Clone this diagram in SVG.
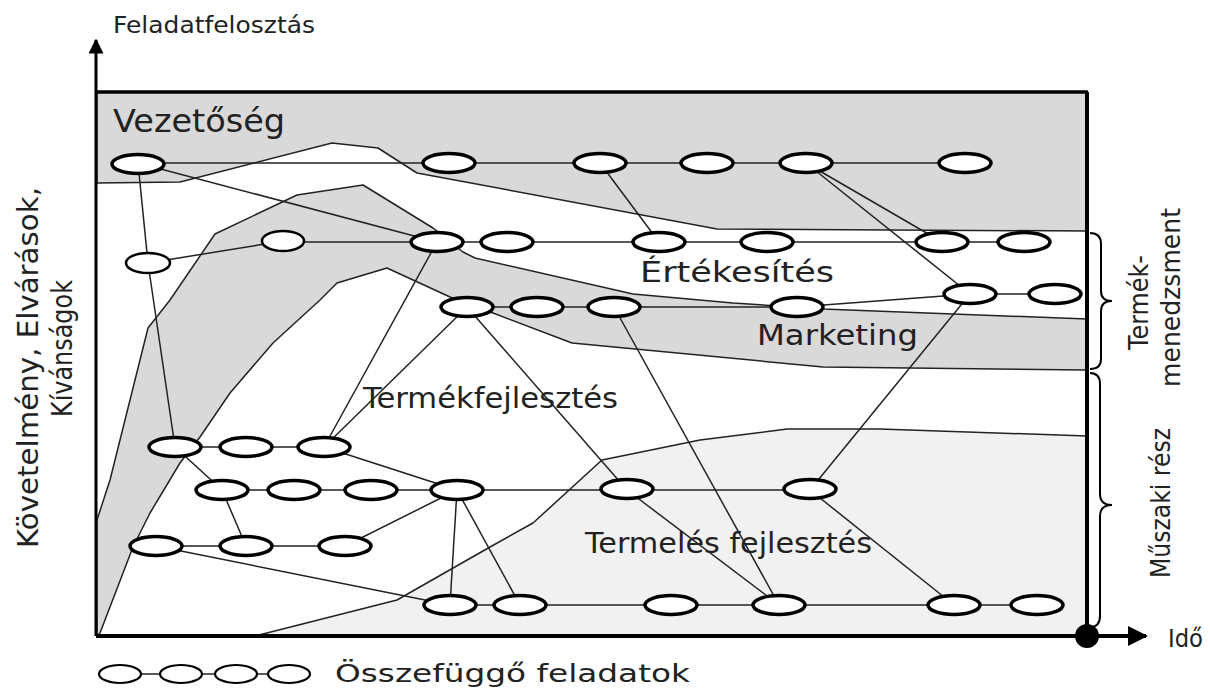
<svg xmlns="http://www.w3.org/2000/svg" width="1210" height="694" viewBox="0 0 1210 694">
  <style>
    .t{font-family:"DejaVu Sans","Liberation Sans",sans-serif;fill:#222}
    .c{stroke:#222;stroke-width:1.5;fill:none}
    .zone{stroke:#222;stroke-width:1.5;stroke-linejoin:round}
    .n{fill:#fff;stroke:#000;stroke-width:3.5}
    .ns{fill:#fff;stroke:#000;stroke-width:2.5}
    .lg{fill:#fff;stroke:#000;stroke-width:2.2}
    .brace{fill:none;stroke:#000;stroke-width:2}
  </style>
  <defs>
    <marker id="arrow" viewBox="0 0 10 10" refX="9" refY="5" markerWidth="5" markerHeight="5" orient="auto" markerUnits="strokeWidth">
      <path d="M0,0 L10,5 L0,10 z" fill="#000"/>
    </marker>
  </defs>

  <rect x="0" y="0" width="1210" height="694" fill="#fff"/>

  <!-- shaded areas -->
  <g id="zones">
    <!-- management area at the top -->
    <polygon class="zone" fill="#d9d9d9" points="97,92 1087,92 1087,231 717,229 417,173 378,148 332,143 180,182 97,183"/>
    <!-- marketing band -->
    <polygon class="zone" fill="#d9d9d9" points="97,520 110,480 148,328 170,300 215,234 297,195 363,185 433,228 463,252 475,258 633,294 733,303 823,309 1087,319 1087,370 823,367 572,343 493,313 467,303 450,297 387,268 337,283 320,300 273,343 230,393 200,437 180,463 150,513 133,547 100,633 97,636"/>
    <!-- production development area -->
    <polygon class="zone" fill="#f1f1f1" points="255,636 397,600 490,547 533,523 602,460 700,440 787,429 880,429 1087,436 1087,636"/>
  </g>

  <!-- connectors -->
  <g id="connectors">
    <line class="c" x1="138" y1="163" x2="966" y2="163"/>
    <line class="c" x1="283" y1="242" x2="1024" y2="242"/>
    <line class="c" x1="467" y1="307" x2="797" y2="307"/>
    <line class="c" x1="797" y1="307" x2="970" y2="294"/>
    <line class="c" x1="970" y1="294" x2="1055" y2="294"/>
    <line class="c" x1="175" y1="447" x2="324" y2="447"/>
    <line class="c" x1="222" y1="490" x2="810" y2="490"/>
    <line class="c" x1="156" y1="546" x2="345" y2="546"/>
    <line class="c" x1="450" y1="605" x2="1037" y2="605"/>

    <line class="c" x1="138" y1="163" x2="148" y2="263"/>
    <line class="c" x1="148" y1="263" x2="175" y2="447"/>
    <line class="c" x1="148" y1="263" x2="283" y2="241"/>
    <line class="c" x1="138" y1="163" x2="437" y2="242"/>
    <line class="c" x1="600" y1="163" x2="659" y2="242"/>
    <line class="c" x1="806" y1="163" x2="942" y2="242"/>
    <line class="c" x1="806" y1="163" x2="970" y2="294"/>
    <line class="c" x1="437" y1="242" x2="324" y2="447"/>
    <line class="c" x1="467" y1="307" x2="324" y2="447"/>
    <line class="c" x1="467" y1="307" x2="627" y2="490"/>
    <line class="c" x1="614" y1="307" x2="779" y2="605"/>
    <line class="c" x1="970" y1="294" x2="810" y2="490"/>
    <line class="c" x1="810" y1="490" x2="954" y2="605"/>
    <line class="c" x1="627" y1="490" x2="779" y2="605"/>
    <line class="c" x1="175" y1="447" x2="222" y2="490"/>
    <line class="c" x1="222" y1="490" x2="246" y2="546"/>
    <line class="c" x1="324" y1="447" x2="457" y2="490"/>
    <line class="c" x1="345" y1="546" x2="457" y2="490"/>
    <line class="c" x1="457" y1="490" x2="450" y2="605"/>
    <line class="c" x1="457" y1="490" x2="520" y2="605"/>
    <line class="c" x1="156" y1="546" x2="450" y2="605"/>
  </g>

  <!-- frame and axes -->
  <g id="axes">
    <line x1="96" y1="636" x2="96" y2="40" stroke="#000" stroke-width="3" marker-end="url(#arrow)"/>
    <line x1="96" y1="92" x2="1088" y2="92" stroke="#000" stroke-width="3.5"/>
    <line x1="1087" y1="92" x2="1087" y2="636" stroke="#000" stroke-width="4"/>
    <line x1="96" y1="636" x2="1146" y2="636" stroke="#000" stroke-width="4" marker-end="url(#arrow)"/>
    <circle cx="1087" cy="636" r="12" fill="#000"/>
    <path class="brace" d="M1090,233 Q1101,233 1101,244 L1101,291 Q1101,301 1112,301 Q1101,301 1101,311 L1101,359 Q1101,369 1090,369"/>
    <path class="brace" d="M1090,373 Q1100,373 1100,384 L1100,494 Q1100,505 1112,505 Q1100,505 1100,516 L1100,616 Q1100,627 1090,627"/>
  </g>

  <!-- tasks -->
  <g id="v1"><ellipse class="n" cx="138" cy="164" rx="26" ry="9.5"/></g>
  <g id="v2"><ellipse class="n" cx="449" cy="163" rx="26" ry="9.5"/></g>
  <g id="v3"><ellipse class="n" cx="600" cy="163" rx="26" ry="9.5"/></g>
  <g id="v4"><ellipse class="n" cx="707" cy="163" rx="26" ry="9.5"/></g>
  <g id="v5"><ellipse class="n" cx="806" cy="163" rx="26" ry="9.5"/></g>
  <g id="v6"><ellipse class="n" cx="965" cy="163" rx="26" ry="9.5"/></g>

  <g id="s0"><ellipse class="ns" cx="148" cy="263" rx="22" ry="10"/></g>
  <g id="s1"><ellipse class="ns" cx="283" cy="241" rx="21" ry="10"/></g>
  <g id="s2"><ellipse class="n" cx="437" cy="242" rx="26" ry="9.5"/></g>
  <g id="s3"><ellipse class="n" cx="507" cy="242" rx="26" ry="9.5"/></g>
  <g id="s4"><ellipse class="n" cx="659" cy="242" rx="26" ry="9.5"/></g>
  <g id="s5"><ellipse class="n" cx="767" cy="242" rx="26" ry="9.5"/></g>
  <g id="s6"><ellipse class="n" cx="942" cy="242" rx="26" ry="9.5"/></g>
  <g id="s7"><ellipse class="n" cx="1024" cy="242" rx="26" ry="9.5"/></g>

  <g id="m1"><ellipse class="n" cx="467" cy="307" rx="26" ry="9.5"/></g>
  <g id="m2"><ellipse class="n" cx="537" cy="307" rx="26" ry="9.5"/></g>
  <g id="m3"><ellipse class="n" cx="614" cy="307" rx="26" ry="9.5"/></g>
  <g id="m4"><ellipse class="n" cx="797" cy="307" rx="26" ry="9.5"/></g>
  <g id="m5"><ellipse class="n" cx="970" cy="294" rx="26" ry="9.5"/></g>
  <g id="m6"><ellipse class="n" cx="1055" cy="294" rx="26" ry="9.5"/></g>

  <g id="d1"><ellipse class="n" cx="175" cy="447" rx="26" ry="9.5"/></g>
  <g id="d2"><ellipse class="n" cx="246" cy="447" rx="26" ry="9.5"/></g>
  <g id="d3"><ellipse class="n" cx="324" cy="447" rx="26" ry="9.5"/></g>

  <g id="d4"><ellipse class="n" cx="222" cy="490" rx="26" ry="9.5"/></g>
  <g id="d5"><ellipse class="n" cx="294" cy="490" rx="26" ry="9.5"/></g>
  <g id="d6"><ellipse class="n" cx="371" cy="490" rx="26" ry="9.5"/></g>
  <g id="d7"><ellipse class="n" cx="457" cy="490" rx="26" ry="9.5"/></g>
  <g id="d8"><ellipse class="n" cx="627" cy="489" rx="26" ry="9.5"/></g>
  <g id="d9"><ellipse class="n" cx="810" cy="489" rx="26" ry="9.5"/></g>

  <g id="d10"><ellipse class="n" cx="156" cy="546" rx="26" ry="9.5"/></g>
  <g id="d11"><ellipse class="n" cx="246" cy="546" rx="26" ry="9.5"/></g>
  <g id="d12"><ellipse class="n" cx="345" cy="546" rx="26" ry="9.5"/></g>

  <g id="p1"><ellipse class="n" cx="450" cy="605" rx="26" ry="9.5"/></g>
  <g id="p2"><ellipse class="n" cx="520" cy="605" rx="26" ry="9.5"/></g>
  <g id="p3"><ellipse class="n" cx="671" cy="605" rx="26" ry="9.5"/></g>
  <g id="p4"><ellipse class="n" cx="779" cy="605" rx="26" ry="9.5"/></g>
  <g id="p5"><ellipse class="n" cx="954" cy="605" rx="26" ry="9.5"/></g>
  <g id="p6"><ellipse class="n" cx="1037" cy="605" rx="26" ry="9.5"/></g>

  <!-- legend -->
  <g id="legend">
    <line class="c" x1="120" y1="674" x2="289" y2="674"/>
    <ellipse class="lg" cx="120" cy="674" rx="21" ry="9"/>
    <ellipse class="lg" cx="181" cy="674" rx="21" ry="9"/>
    <ellipse class="lg" cx="236" cy="674" rx="21" ry="9"/>
    <ellipse class="lg" cx="289" cy="674" rx="21" ry="9"/>
    <text class="t" x="335" y="682" font-size="25" textLength="355" lengthAdjust="spacingAndGlyphs">Összefüggő feladatok</text>
  </g>

  <!-- labels -->
  <g id="labels">
    <text class="t" x="113" y="33" font-size="23" textLength="202" lengthAdjust="spacingAndGlyphs">Feladatfelosztás</text>
    <text class="t" x="113" y="132" font-size="32" textLength="172" lengthAdjust="spacingAndGlyphs">Vezetőség</text>
    <text class="t" x="640" y="282" font-size="29" textLength="194" lengthAdjust="spacingAndGlyphs">Értékesítés</text>
    <text class="t" x="757" y="345" font-size="28" textLength="161" lengthAdjust="spacingAndGlyphs">Marketing</text>
    <text class="t" x="363" y="408" font-size="28" textLength="255" lengthAdjust="spacingAndGlyphs">Termékfejlesztés</text>
    <text class="t" x="585" y="553" font-size="28" textLength="287" lengthAdjust="spacingAndGlyphs">Termelés fejlesztés</text>
    <text class="t" x="1168" y="647" font-size="25" textLength="35" lengthAdjust="spacingAndGlyphs">Idő</text>
    <text class="t" font-size="29" textLength="361" lengthAdjust="spacingAndGlyphs" transform="translate(38,548) rotate(-90)">Követelmény, Elvárások,</text>
    <text class="t" font-size="29" textLength="137" lengthAdjust="spacingAndGlyphs" transform="translate(72,417) rotate(-90)">Kívánságok</text>
    <text class="t" font-size="26" textLength="95" lengthAdjust="spacingAndGlyphs" transform="translate(1148,350) rotate(-90)">Termék-</text>
    <text class="t" font-size="26" textLength="179" lengthAdjust="spacingAndGlyphs" transform="translate(1180,387) rotate(-90)">menedzsment</text>
    <text class="t" font-size="26" textLength="150" lengthAdjust="spacingAndGlyphs" transform="translate(1170,578) rotate(-90)">Műszaki rész</text>
  </g>
</svg>
